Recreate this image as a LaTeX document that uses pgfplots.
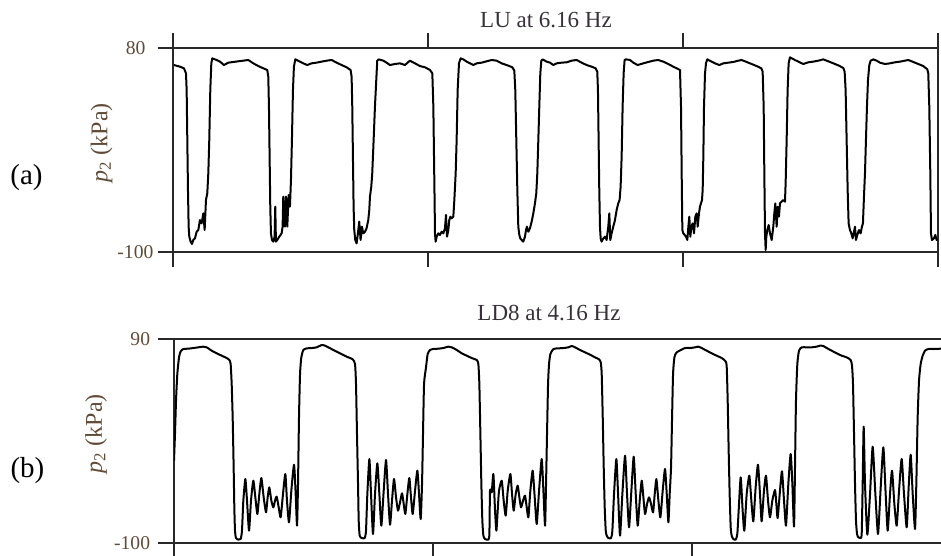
\documentclass[border=0pt]{standalone}
\usepackage{fontspec}
\setmainfont{Liberation Serif}
\usepackage{pgfplots}
\pgfplotsset{compat=1.18}
\definecolor{titlecol}{RGB}{55,50,55}
\definecolor{labcol}{RGB}{95,75,55}
\definecolor{axcol}{RGB}{40,40,40}
\begin{document}
\begin{tikzpicture}
\pgfplotsset{
  panel/.style={
    scale only axis,
    anchor=south west,
    xmin=0, xmax=1500,
    xtick={0,500,1000,1500}, xticklabels={},
    tick align=outside,
    ytick pos=left,
    major tick length=7.75bp,
    axis line style={line width=1bp, color=axcol},
    every tick/.style={line width=1bp, color=axcol},
    yticklabel style={font=\fontsize{9.8bp}{11bp}\selectfont, text=labcol, inner sep=0pt, xshift=-4bp},
    clip=true,
  }
}
% ---------- panel (a) ----------
\begin{axis}[panel,
  at={(86.65bp,-125.85bp)}, width=382.2bp, height=101.7bp,
  ymin=-100, ymax=80,
  ytick={-100,80}, yticklabels={{-100\kern-2bp},{80\kern2bp}},
  xtick pos=both]
\addplot[black, line width=1bp, line join=round] coordinates {
(1.3,65.2)(13.1,63.75)(20.9,62.3)(24.9,57.85)(26.2,43.1)(27.5,-1.15)(28.8,-45.4)(30.1,-77.85)(31.4,-86.7)(34.0,-91.1)(36.6,-93.2)(39.2,-89.65)(42.5,-88.2)(45.8,-82.3)(49.1,-80.8)(52.3,-71.95)(55.6,-74.9)(58.9,-66.05)(61.5,-80.8)(64.1,-54.25)(66.7,-48.35)(68.7,-30.65)(70.6,-1.15)(72.6,43.1)(74.6,66.7)(76.5,71.1)(85.0,69.65)(91.6,68.2)(99.4,65.2)(107.9,67.3)(117.7,67.9)(127.5,68.5)(137.3,69.06)(147.2,69.65)(157.0,66.7)(166.8,64.3)(176.6,62.3)(184.4,60.8)(186.4,54.9)(187.7,28.35)(189.0,-15.9)(190.3,-60.15)(191.6,-83.75)(193.6,-89.65)(196.2,-91.1)(198.8,-86.7)(200.1,-60.15)(201.4,-91.1)(204.0,-89.65)(208.0,-86.7)(212.6,-83.75)(214.5,-77.85)(215.8,-51.3)(219.1,-77.85)(221.1,-51.3)(223.7,-77.85)(226.3,-49.8)(228.9,-60.15)(230.9,-36.55)(232.8,-1.15)(234.8,43.1)(236.7,63.75)(239.4,70.2)(248.5,68.2)(255.1,66.7)(262.9,65.2)(271.4,66.7)(281.2,67.3)(291.0,68.2)(300.8,69.06)(310.7,69.65)(320.5,67.3)(330.3,65.2)(340.1,63.2)(347.9,60.8)(349.9,54.9)(351.2,28.35)(352.5,-15.9)(353.8,-60.15)(355.1,-80.8)(357.1,-89.65)(359.7,-92.6)(362.3,-83.75)(364.9,-73.4)(367.5,-89.65)(370.2,-77.85)(372.8,-83.75)(376.1,-82.3)(379.3,-79.3)(382.6,-71.95)(384.6,-63.1)(385.9,-51.3)(388.5,-42.45)(390.4,-30.65)(393.1,-1.15)(395.7,28.35)(398.3,51.95)(400.2,69.06)(402.9,70.2)(412.0,69.06)(418.6,67.3)(425.1,65.2)(434.9,66.1)(444.7,66.7)(454.5,65.2)(464.3,69.06)(474.2,66.7)(484.0,64.3)(493.9,63.2)
(503.7,60.8)(508.3,57.85)(510.3,28.35)(511.6,-15.9)(512.9,-60.15)(513.5,-83.75)(514.8,-91.1)(516.8,-86.7)(520.1,-83.75)(523.3,-85.2)(526.6,-82.3)(529.9,-83.75)(533.1,-79.3)(535.1,-67.5)(537.1,-86.7)(539.7,-80.8)(541.6,-71.95)(543.6,-69.0)(546.2,-70.5)(549.5,-69.0)(551.5,-54.25)(554.1,-30.65)(556.0,-1.15)(558.0,43.1)(560.6,66.7)(563.9,71.1)(569.1,70.2)(575.7,68.2)(582.2,66.7)(588.7,65.2)(595.3,66.7)(605.1,67.3)(614.9,68.5)(624.7,69.65)(634.5,69.06)(644.3,66.7)(654.1,65.2)(665.3,63.2)(669.2,60.2)(671.1,43.1)(673.1,-1.15)(675.1,-45.4)(677.0,-77.85)(679.0,-85.2)(680.9,-88.2)(683.6,-89.65)(686.8,-91.1)(690.1,-86.7)(692.1,-80.8)(694.0,-77.85)(696.6,-82.3)(699.9,-79.3)(703.2,-73.4)(706.5,-66.05)(709.7,-57.2)(712.3,-48.35)(714.3,-30.65)(716.3,-1.15)(718.2,28.35)(720.2,57.85)(722.2,69.06)(724.8,70.2)(732.6,68.2)(739.2,67.3)(745.7,65.2)(752.2,66.7)(762.0,67.3)(771.9,67.6)(781.7,69.06)(791.5,69.65)(801.3,67.3)(811.1,65.2)(820.9,63.75)(828.8,62.3)(832.0,59.3)(833.3,43.1)(834.6,-1.15)(835.9,-45.4)(837.3,-77.85)(838.6,-88.2)(840.5,-91.1)(843.8,-88.2)(847.1,-86.7)(850.3,-89.65)(853.6,-77.85)(855.6,-66.05)(857.5,-89.65)(860.1,-83.75)(863.4,-77.85)(866.7,-71.95)(870.0,-63.1)(873.2,-57.2)(875.8,-54.25)(877.8,-42.45)(879.8,-15.9)(881.7,28.35)(883.7,57.85)(885.6,69.65)(888.3,70.2)(896.1,69.65)(902.7,67.3)(911.2,65.2)(922.3,66.7)(932.1,67.9)(941.9,69.06)(951.7,69.65)(961.5,68.2)(971.3,66.1)(981.1,63.75)(987.7,62.3)
(994.3,60.8)(996.3,28.35)(997.6,-30.65)(998.9,-80.8)(1000.8,-83.75)(1003.5,-85.2)(1006.1,-86.7)(1008.7,-89.65)(1010.7,-77.85)(1012.6,-69.0)(1014.6,-86.7)(1016.5,-77.85)(1019.2,-74.9)(1021.8,-83.75)(1024.4,-69.0)(1027.0,-66.05)(1029.0,-77.85)(1031.6,-66.05)(1033.5,-60.15)(1035.5,-57.2)(1037.5,-54.25)(1038.8,-45.4)(1040.1,-15.9)(1041.4,28.35)(1043.4,57.85)(1045.3,66.7)(1047.9,70.2)(1056.4,68.2)(1063.0,66.7)(1071.5,65.2)(1079.3,66.7)(1089.1,67.3)(1098.9,67.9)(1108.8,69.06)(1115.3,69.65)(1125.1,67.9)(1134.9,66.1)(1144.7,64.3)(1153.9,62.3)(1156.5,59.3)(1158.5,28.35)(1159.8,-30.65)(1161.1,-83.75)(1162.4,-98.5)(1163.7,-86.7)(1165.6,-80.8)(1168.3,-76.4)(1170.9,-83.75)(1174.2,-89.65)(1177.4,-77.85)(1179.4,-66.05)(1181.3,-57.2)(1184.0,-77.85)(1185.9,-60.15)(1188.5,-69.0)(1190.5,-57.2)(1193.8,-55.7)(1197.0,-54.25)(1200.3,-55.7)(1201.6,-39.5)(1203.6,-1.15)(1205.5,43.1)(1207.5,66.7)(1210.1,72.0)(1219.9,69.65)(1226.5,68.2)(1236.3,66.1)(1246.1,67.6)(1255.9,68.2)(1265.7,69.06)(1275.5,70.2)(1285.3,68.5)(1295.1,66.7)(1305.0,64.9)(1314.8,62.6)(1317.4,59.3)(1319.3,43.1)(1321.3,-1.15)(1323.3,-45.4)(1325.2,-74.9)(1327.8,-80.8)(1330.5,-83.75)(1333.1,-88.2)(1335.7,-82.3)(1337.7,-77.85)(1339.6,-89.65)(1342.2,-85.2)(1345.5,-80.8)(1348.8,-83.75)(1351.4,-77.85)(1353.3,-74.9)(1355.3,-51.3)(1357.3,-30.65)(1359.2,-1.15)(1361.2,28.35)(1363.2,51.95)(1365.8,65.2)(1368.4,69.06)(1373.6,70.2)(1380.2,69.06)(1386.7,67.3)(1396.5,66.1)(1406.3,66.7)(1416.1,67.6)(1425.9,68.2)(1435.8,69.06)(1442.3,69.65)(1452.1,67.9)(1461.9,66.1)(1471.7,64.3)(1479.6,61.4)(1481.5,57.85)(1483.5,28.35)(1485.5,-30.65)(1486.8,-83.75)(1488.7,-89.65)(1492.6,-88.2)(1495.3,-85.2)(1497.9,-89.65)(1499.8,-88.2)
};
\end{axis}
% ---------- panel (b) ----------
\begin{axis}[panel,
  at={(87bp,-271.65bp)}, width=388.35bp, height=102.15bp,
  ymin=-100, ymax=90,
  ytick={-100,90}, yticklabels={{-100},{90}},
  xtick pos=bottom]
\addplot[black, line width=1bp, line join=round, smooth, tension=0.35] coordinates {
(0,-23.15)(1.9,1.65)(3.9,32.65)(6.4,57.45)(9.7,72.95)(12.9,78.5)(18.0,80.7)(27.7,81.0)(37.3,81.6)(47.0,82.25)(56.6,82.9)(63.1,82.25)(72.7,79.15)(82.4,76.7)(92.1,74.5)(101.7,72.3)(106.9,70.5)(109.4,66.75)(111.4,48.15)(113.3,17.15)(115.2,-29.35)(116.5,-66.55)(117.8,-88.25)(119.7,-95.1)(124.2,-96.6)(128.8,-96.0)(131.3,-88.25)(133.9,-60.35)(137.8,-40.2)(141.0,-60.35)(144.9,-88.25)(148.7,-60.35)(153.2,-41.75)(157.1,-57.25)(161.0,-72.75)(164.8,-54.15)(168.7,-39.3)(173.2,-57.25)(177.7,-71.2)(180.9,-57.25)(184.1,-47.95)(188.0,-60.35)(191.9,-66.55)(195.1,-60.35)(198.3,-56.6)(202.2,-66.55)(206.0,-75.85)(210.5,-54.15)(215.0,-35.55)(218.2,-60.35)(222.1,-80.5)(226.6,-51.05)(231.8,-26.9)(235.0,-54.15)(237.6,-83.6)(239.5,-44.85)(241.4,17.15)(243.4,57.45)(245.9,72.95)(249.8,79.8)(256.2,81.3)(265.9,81.6)(275.5,82.25)(285.2,84.4)(291.6,83.8)(298.1,82.25)(307.7,79.8)(320.6,76.7)(333.5,73.6)(345.1,71.1)(349.6,66.75)(351.5,48.15)(353.4,1.65)(355.4,-44.85)(356.7,-78.95)(358.6,-92.9)(362.5,-95.1)(368.3,-95.1)(370.8,-88.25)(373.4,-54.15)(377.3,-21.6)(380.5,-54.15)(384.3,-91.35)(388.2,-54.15)(392.7,-25.6)(396.6,-54.15)(400.4,-83.6)(405.0,-51.05)(409.5,-22.5)(413.3,-54.15)(417.2,-82.7)(421.0,-60.35)(424.9,-40.2)(428.8,-57.25)(432.6,-69.65)(436.5,-61.9)(440.4,-53.5)(443.6,-63.45)(446.8,-72.75)(450.7,-54.15)(454.5,-39.3)(457.7,-57.25)(461.0,-72.75)(465.5,-51.05)(470.0,-32.45)(473.2,-54.15)(476.4,-77.4)(479.0,-44.85)(480.9,1.65)(482.9,48.15)(486.7,63.65)(489.9,76.05)(494.5,79.8)(500.9,80.7)(510.6,81.0)(520.2,81.6)(529.9,82.9)(536.3,82.25)(546.0,79.8)(555.6,76.7)(565.3,74.5)(574.9,72.3)(584.6,70.5)(587.8,66.75)(589.7,48.15)(591.7,1.65)(593.6,-44.85)(595.5,-78.95)(597.5,-92.9)(600.7,-96.0)(607.1,-96.6)(609.1,-91.35)(610.3,-51.05)(613.6,-52.6)(616.8,-35.55)(620.0,-69.65)(622.6,-88.25)(625.1,-69.65)(627.7,-51.05)(632.9,-41.75)(636.7,-60.35)(640.6,-74.3)(644.5,-51.05)(649.6,-35.55)(652.8,-54.15)(656.1,-69.65)(659.9,-54.15)(663.8,-46.4)(667.0,-57.25)(670.2,-66.55)(674.1,-60.35)(677.9,-55.7)(681.2,-66.55)(684.4,-75.85)(688.2,-51.05)(692.7,-32.45)(696.6,-57.25)(700.5,-82.05)(705.0,-51.05)(710.1,-21.6)(713.4,-51.05)(716.6,-83.6)(718.5,-44.85)(720.4,1.65)(722.4,48.15)(724.3,66.75)(726.9,76.05)(732.7,80.7)(742.3,81.3)(752.0,81.6)(761.6,82.25)(768.1,83.5)(774.5,82.25)(784.2,79.8)(793.8,77.6)(803.5,75.4)(813.1,72.95)(820.9,71.1)(824.1,68.3)(826.0,57.45)(828.0,17.15)(829.9,-29.35)(831.8,-66.55)(833.8,-88.25)(835.7,-92.9)(838.9,-95.1)(844.0,-95.1)(846.6,-88.25)(849.8,-54.15)(854.3,-21.6)(857.6,-54.15)(861.4,-92.9)(865.9,-54.15)(871.1,-18.5)(874.9,-54.15)(878.8,-85.15)(883.3,-51.05)(887.8,-19.4)(891.7,-54.15)(895.5,-83.6)(899.4,-60.35)(903.3,-41.75)(906.5,-57.25)(909.7,-72.75)(913.6,-63.45)(917.4,-57.25)(921.3,-63.45)(925.2,-71.2)(928.4,-54.15)(931.6,-40.2)(935.5,-60.35)(939.3,-75.85)(943.8,-51.05)(948.3,-30.9)(951.6,-54.15)(954.8,-80.5)(957.3,-54.15)(959.9,-29.35)(961.9,17.15)(963.8,57.45)(966.4,72.95)(970.9,77.6)(986.9,81.6)(996.5,81.6)(1006.2,82.25)(1012.6,82.9)(1019.0,81.6)(1028.7,79.15)(1038.4,76.7)(1048.0,74.5)(1057.7,72.3)(1064.1,69.85)(1067.3,65.2)(1069.3,32.65)(1071.2,-13.85)(1073.1,-54.15)(1075.1,-85.15)(1077.0,-92.9)(1080.2,-96.0)(1084.7,-96.6)(1087.9,-91.35)(1090.5,-69.65)(1094.4,-38.65)(1098.2,-69.65)(1101.5,-88.25)(1106.0,-54.15)(1111.1,-37.1)(1115.0,-60.35)(1118.8,-79.6)(1123.3,-47.95)(1127.8,-26.9)(1131.7,-54.15)(1134.9,-79.6)(1139.4,-51.05)(1143.3,-37.1)(1147.2,-60.35)(1151.0,-75.85)(1155.5,-60.35)(1160.7,-50.4)(1163.3,-63.45)(1165.8,-76.5)(1170.3,-51.05)(1174.2,-33.1)(1178.1,-60.35)(1181.9,-83.6)(1186.4,-44.85)(1190.9,-16.95)(1194.2,-44.85)(1197.4,-84.5)(1199.3,-29.35)(1201.2,32.65)(1203.8,66.75)(1207.0,79.15)(1212.2,82.25)(1221.8,82.25)(1231.5,82.25)(1241.2,82.9)(1247.6,83.8)(1254.0,83.5)(1260.5,81.6)(1270.1,79.15)(1279.8,76.7)(1289.4,74.5)(1299.1,72.95)(1306.8,70.5)(1309.4,65.2)(1311.3,48.15)(1313.3,1.65)(1315.2,-44.85)(1317.1,-78.95)(1319.1,-91.35)(1321.6,-94.45)(1325.5,-95.1)(1328.1,-91.35)(1330.0,-44.85)(1331.9,8.5)(1334.5,-44.85)(1339.0,-92.0)(1344.2,-54.15)(1349.3,-10.1)(1354.5,-54.15)(1359.6,-91.35)(1364.8,-47.95)(1369.9,-10.75)(1374.4,-54.15)(1378.3,-88.25)(1382.8,-54.15)(1386.7,-32.45)(1391.2,-63.45)(1395.7,-83.6)(1400.2,-51.05)(1405.3,-21.6)(1409.8,-54.15)(1415.0,-85.15)(1418.8,-47.95)(1422.7,-17.6)(1426.6,-54.15)(1431.1,-86.7)(1433.6,-44.85)(1436.2,17.15)(1438.8,51.25)(1442.0,66.75)(1445.9,74.5)(1450.4,79.15)(1456.8,80.7)(1466.5,80.7)(1481.3,81.0)
};
\end{axis}
% ---------- texts ----------
\node[anchor=base, text=titlecol, font=\fontsize{11.5bp}{13bp}\selectfont] at (273bp,-13.5bp) {LU at 6.16 Hz};
\node[anchor=base, text=titlecol, font=\fontsize{11.5bp}{13bp}\selectfont] at (274.5bp,-160.25bp) {LD8 at 4.16 Hz};
\node[rotate=90, text=labcol, font=\fontsize{12bp}{14bp}\selectfont] at (50.75bp,-71.5bp) {\textit{p}\textsubscript{2} (kPa)};
\node[rotate=90, text=labcol, font=\fontsize{12bp}{14bp}\selectfont] at (48bp,-217bp) {\textit{p}\textsubscript{2} (kPa)};
\node[font=\fontsize{14.5bp}{17bp}\selectfont] at (13.25bp,-88.75bp) {(a)};
\node[font=\fontsize{14.5bp}{17bp}\selectfont] at (13.75bp,-235.5bp) {(b)};
\pgfresetboundingbox
\path[use as bounding box] (0bp,0bp) rectangle (470.5bp,-278bp);
\end{tikzpicture}
\end{document}
